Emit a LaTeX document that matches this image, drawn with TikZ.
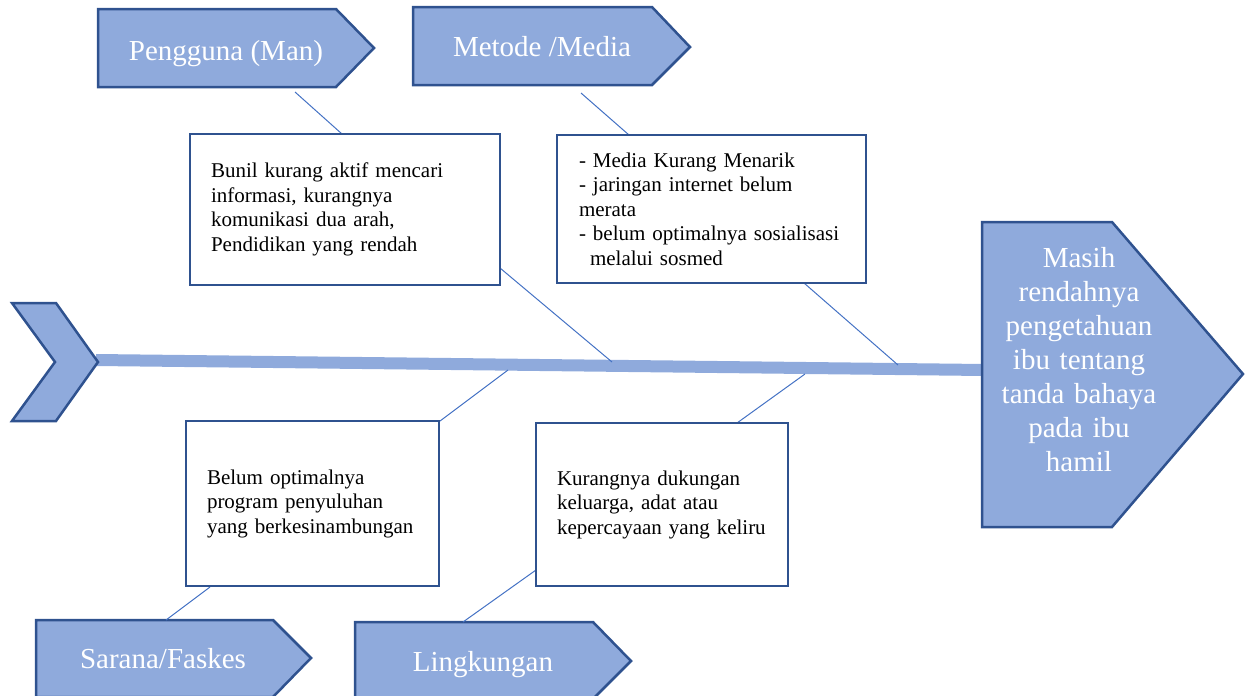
\documentclass[tikz,border=0pt]{standalone}
\usepackage{fontspec}
\setmainfont{Liberation Serif}
\definecolor{tulang}{HTML}{8FAADC}
\definecolor{garis}{HTML}{2F528F}
\definecolor{cabang}{HTML}{4472C4}
\tikzset{
	kotak/.style={draw=garis, line width=2pt, fill=white, align=left, inner xsep=21pt, inner ysep=0pt, font=\fontsize{21}{24.5}\selectfont},
	panah/.style={draw=garis, line width=2.5pt, fill=tulang, line join=miter},
	judul/.style={text=white, anchor=base, font=\fontsize{29}{34}\selectfont},
	ranting/.style={draw=cabang, line width=1pt}
}
\begin{document}
\begin{tikzpicture}[x=1pt, y=-1pt]
				\useasboundingbox (0,0) rectangle (1251,696);

				% Tulang utama
				\draw[tulang, line width=12pt] (96,360) -- (984,370);
				\draw[panah] (12,303) -- (56,303) -- (98,362) -- (56,421) -- (12,421) -- (55,362) -- cycle;

				% Kepala (masalah)
				\draw[panah] (982,222) -- (1112,222) -- (1243,374) -- (1112,527) -- (982,527) -- cycle;
				\node[text=white, align=center, text width=175pt, font=\fontsize{29}{34}\selectfont] (hasil) at (1079,360)
					{Masih\\ rendahnya\\ pengetahuan\\ ibu tentang\\ tanda bahaya\\ pada ibu\\ hamil};

				% Pengguna (Man)
				\draw[panah] (98,9) -- (336,9) -- (374,48) -- (336,87) -- (98,87) -- cycle;
				\node[judul] (man) at (226,60) {Pengguna (Man)};

				% Metode /Media
				\draw[panah] (413,7) -- (652,7) -- (690,47) -- (652,85) -- (413,85) -- cycle;
				\node[judul] (media) at (542,56) {Metode /Media};

				% Sarana/Faskes
				\draw[panah] (36,620) -- (273,620) -- (311,658) -- (273,697) -- (36,697) -- cycle;
				\node[judul] (sarana) at (163,668) {Sarana/Faskes};

				% Lingkungan
				\draw[panah] (355,622) -- (593,622) -- (631,661) -- (593,699) -- (355,699) -- cycle;
				\node[judul] (lingkungan) at (483,671) {Lingkungan};

				% Titik ujung ranting
				\coordinate (m1) at (295,92);
				\coordinate (m2) at (342,134);
				\coordinate (m3) at (500,268);
				\coordinate (m4) at (612,362);
				\coordinate (d1) at (581,93);
				\coordinate (d2) at (629,135);
				\coordinate (d3) at (804,283);
				\coordinate (d4) at (898,365);
				\coordinate (s1) at (210,587);
				\coordinate (s2) at (166,620);
				\coordinate (s3) at (440,421);
				\coordinate (s4) at (508,370);
				\coordinate (l1) at (536,570);
				\coordinate (l2) at (463,622);
				\coordinate (l3) at (737,423);
				\coordinate (l4) at (805,374);

				% Ranting
				\draw[ranting] (m1) -- (m2);
				\draw[ranting] (m3) -- (m4);
				\draw[ranting] (d1) -- (d2);
				\draw[ranting] (d3) -- (d4);
				\draw[ranting] (s1) -- (s2);
				\draw[ranting] (s3) -- (s4);
				\draw[ranting] (l1) -- (l2);
				\draw[ranting] (l3) -- (l4);

				% Keterangan
				\node[kotak, text width=268pt, minimum width=310pt, minimum height=151pt] (ketman) at (345,209.5)
					{Bunil kurang aktif mencari\\ informasi, kurangnya\\ komunikasi dua arah,\\ Pendidikan yang rendah};
				\node[kotak, inner xsep=22pt, text width=265pt, minimum width=309pt, minimum height=148pt] (ketmedia) at (711.5,209)
					{- Media Kurang Menarik\\ - jaringan internet belum\\ merata\\ - belum optimalnya sosialisasi\\ \hspace*{11pt}melalui sosmed};
				\node[kotak, text width=211pt, minimum width=253pt, minimum height=165pt] (ketsarana) at (312.5,503.5)
					{Belum optimalnya\\ program penyuluhan\\ yang berkesinambungan};
				\node[kotak, text width=210pt, minimum width=252pt, minimum height=163pt] (ketlingk) at (662,504.5)
					{Kurangnya dukungan\\ keluarga, adat atau\\ kepercayaan yang keliru};
			\end{tikzpicture}
\end{document}
